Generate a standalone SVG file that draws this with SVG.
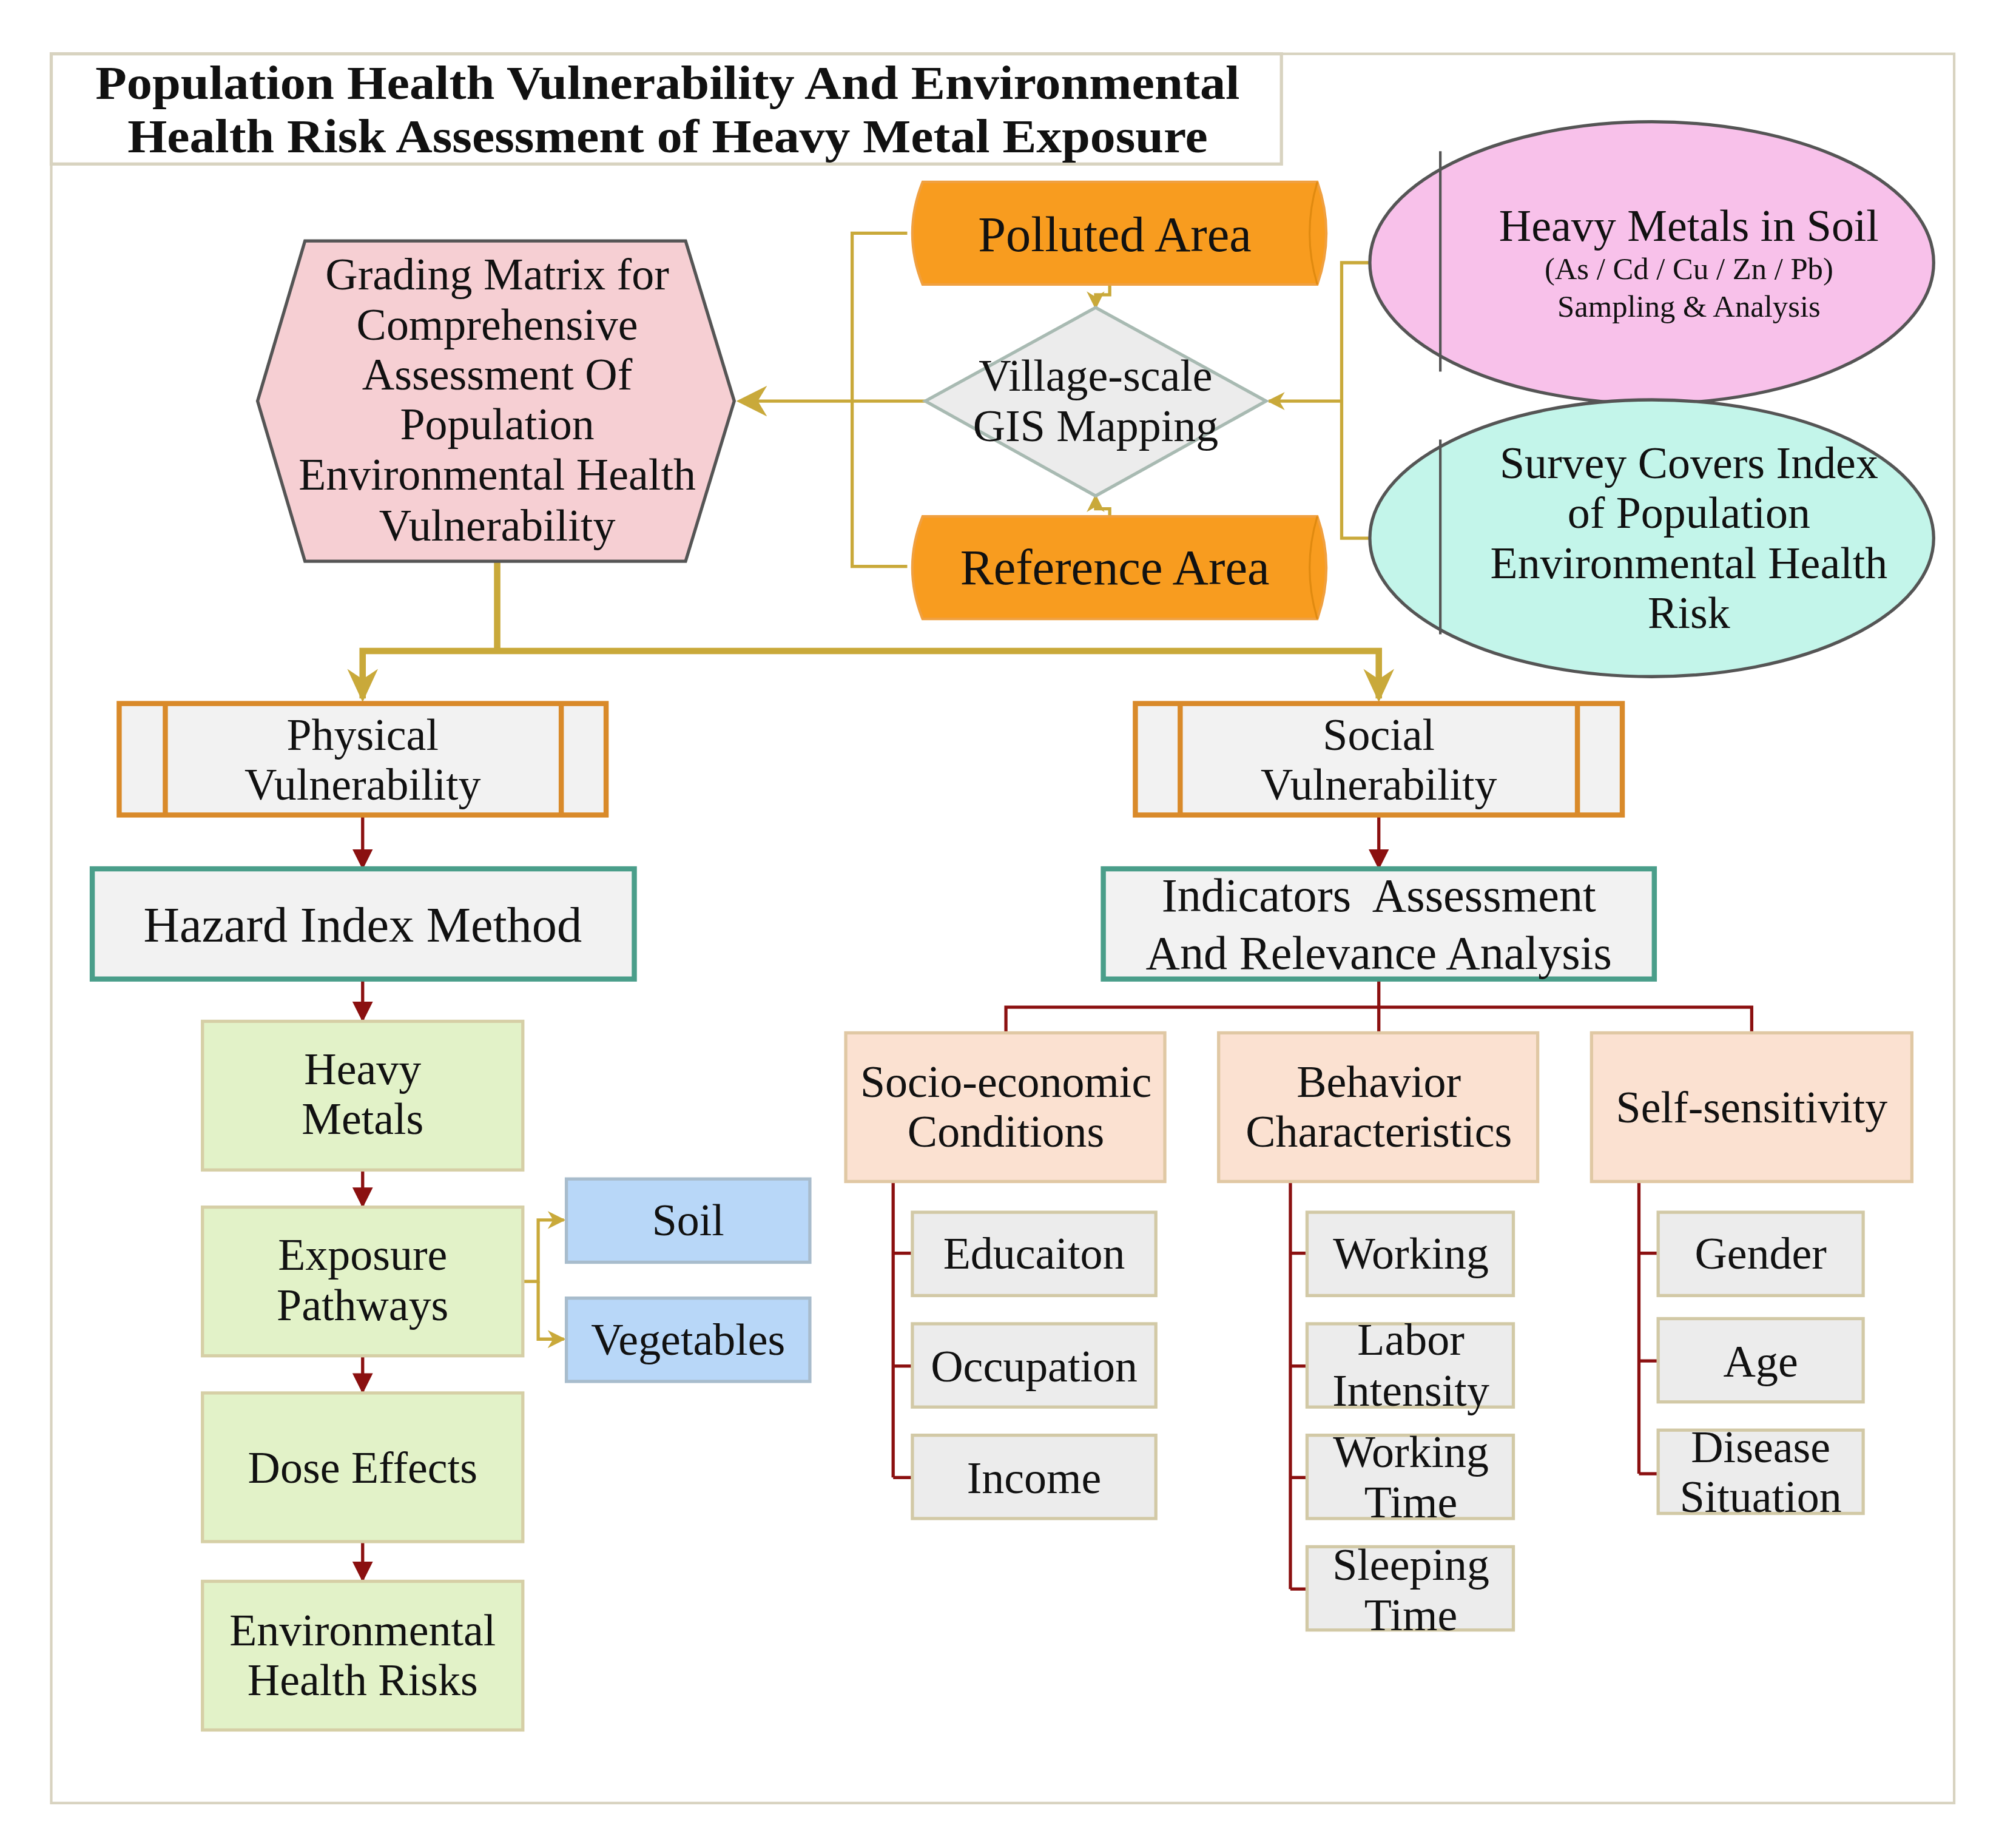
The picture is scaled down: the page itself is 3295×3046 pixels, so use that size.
<svg xmlns="http://www.w3.org/2000/svg" width="3295" height="3046" viewBox="0 0 3295 3046">
<defs>
<marker id="agb" viewBox="0 0 10 10" refX="9" refY="5" markerWidth="24" markerHeight="24" orient="auto" markerUnits="userSpaceOnUse"><path d="M0,0 L10,5 L0,10 L3,5 z" fill="#c9a93a"/></marker>
<marker id="ags" viewBox="0 0 10 10" refX="9" refY="5" markerWidth="14" markerHeight="14" orient="auto" markerUnits="userSpaceOnUse"><path d="M0,0 L10,5 L0,10 L3,5 z" fill="#c9a93a"/></marker>
<marker id="ar" viewBox="0 0 10 10" refX="9" refY="5" markerWidth="16" markerHeight="16" orient="auto" markerUnits="userSpaceOnUse"><path d="M0,0 L10,5 L0,10 z" fill="#8b1010"/></marker>
</defs>
<style>
text{font-family:"Liberation Serif","DejaVu Serif",serif;fill:#111;text-anchor:middle}
.t{font-size:35px}
.g{fill:none;stroke:#c9a93a;stroke-width:2.5}
.r{fill:none;stroke:#8b1010;stroke-width:2.5}
.grn{fill:#e2f2c8;stroke:#d6cfa6;stroke-width:2.5}
.blu{fill:#b8d7f8;stroke:#a8bccc;stroke-width:2.5}
.pch{fill:#fbe1d1;stroke:#e0c8a4;stroke-width:2.5}
.gry{fill:#ececec;stroke:#d2c9a6;stroke-width:2.5}
.ora{fill:#f89c1f;stroke:#f0a040;stroke-width:2}
</style>
<rect width="3295" height="3046" fill="#fff"/>
<g transform="scale(2.1122)">
<rect x="40" y="42" width="1485" height="1365" fill="none" stroke="#d8d3c0" stroke-width="2"/>
<g id="title"><rect x="40" y="42" width="960" height="86" fill="#fff" stroke="#d8d3c0" stroke-width="2.5"/>
<text x="521" y="77" style="font-size:37px;font-weight:bold" textLength="893" lengthAdjust="spacingAndGlyphs">Population Health Vulnerability And Environmental</text>
<text x="521" y="119" style="font-size:37px;font-weight:bold" textLength="843" lengthAdjust="spacingAndGlyphs">Health Risk Assessment of Heavy Metal Exposure</text></g>

<g id="connectors">
<path class="g" d="M708,182 H665 V442 H708"/>
<path class="g" d="M722,313 H577" marker-end="url(#agb)"/>
<path class="g" d="M1068,205 H1047 V420 H1068"/>
<path class="g" d="M1047,313 H990" marker-end="url(#ags)"/>
<path class="g" d="M866,222 V230 H855 V240" marker-end="url(#ags)"/>
<path class="g" d="M866,403 V397 H855 V387" marker-end="url(#ags)"/>
<path class="g" style="stroke-width:5" d="M388,438 V508"/>
<path class="g" style="stroke-width:5" d="M283,545 V508 H1076 V545"/>
<path d="M271,522 L283,548 L295,522 L283,530 z M1064,522 L1076,548 L1088,522 L1076,530 z" fill="#c9a93a"/>
<path class="g" d="M408,1000 H420 V952 H440" marker-end="url(#ags)"/>
<path class="g" d="M420,1000 V1045 H440" marker-end="url(#ags)"/>
<path class="r" d="M283,636 V677" marker-end="url(#ar)"/>
<path class="r" d="M1076,636 V677" marker-end="url(#ar)"/>
<path class="r" d="M283,764 V796" marker-end="url(#ar)"/>
<path class="r" d="M283,913 V941" marker-end="url(#ar)"/>
<path class="r" d="M283,1058 V1086" marker-end="url(#ar)"/>
<path class="r" d="M283,1203 V1233" marker-end="url(#ar)"/>
<path class="r" d="M1076,764 V806 M785,806 V786 H1367 V806"/>
<path class="r" d="M697,922 V1153 M697,978 H712 M697,1066 H712 M697,1153 H712"/>
<path class="r" d="M1007,922 V1240 M1007,978 H1020 M1007,1066 H1020 M1007,1153 H1020 M1007,1240 H1020"/>
<path class="r" d="M1279,922 V1150 M1279,978 H1294 M1279,1062 H1294 M1279,1150 H1294"/>
</g>

<g id="polluted"><path class="ora" d="M720,142 H1028 Q1042,182 1028,222 H720 Q704,182 720,142 z"/><path d="M1028,142 Q1016,182 1028,222" fill="none" stroke="#e08a10" stroke-width="1.5"/><text x="870" y="196" style="font-size:39px">Polluted Area</text></g>
<g id="reference"><path class="ora" d="M720,403 H1028 Q1042,443 1028,483 H720 Q704,443 720,403 z"/><path d="M1028,403 Q1016,443 1028,483" fill="none" stroke="#e08a10" stroke-width="1.5"/><text x="870" y="456" style="font-size:39px">Reference Area</text></g>
<g id="gis"><path d="M855,240 L988,313 L855,387 L722,313 z" fill="#ececec" stroke="#a8bab2" stroke-width="2.5"/><text x="855" y="305" class="t">Village-scale</text><text x="855" y="344" class="t">GIS Mapping</text></g>
<g id="matrix"><path d="M238,188 L535,188 L573,313 L535,438 L238,438 L201,313 z" fill="#f6cfd3" stroke="#555" stroke-width="2.5"/>
<text x="388" y="226" class="t">Grading Matrix for</text><text x="388" y="265" class="t">Comprehensive</text><text x="388" y="304" class="t">Assessment Of</text><text x="388" y="343" class="t">Population</text><text x="388" y="382" class="t">Environmental Health</text><text x="388" y="422" class="t">Vulnerability</text></g>
<g id="soilmetals"><ellipse cx="1289" cy="205" rx="220" ry="110" fill="#f8c1ea" stroke="#555" stroke-width="2.5"/><line x1="1124" y1="118" x2="1124" y2="290" stroke="#555" stroke-width="2"/>
<text x="1318" y="188" class="t">Heavy Metals in Soil</text><text x="1318" y="218" style="font-size:24px">(As / Cd / Cu / Zn / Pb)</text><text x="1318" y="247" style="font-size:24px">Sampling &amp; Analysis</text></g>
<g id="survey"><ellipse cx="1289" cy="420" rx="220" ry="108" fill="#c3f5ea" stroke="#555" stroke-width="2.5"/><line x1="1124" y1="343" x2="1124" y2="495" stroke="#555" stroke-width="2"/>
<text x="1318" y="373" class="t">Survey Covers Index</text><text x="1318" y="412" class="t">of Population</text><text x="1318" y="451" class="t">Environmental Health</text><text x="1318" y="490" class="t">Risk</text></g>

<g id="physical"><rect x="93" y="549" width="380" height="87" fill="#f2f2f2" stroke="#d98a2a" stroke-width="4"/><path d="M129,549 V636 M438,549 V636" stroke="#d98a2a" stroke-width="4"/><text x="283" y="585" class="t">Physical</text><text x="283" y="624" class="t">Vulnerability</text></g>
<g id="social"><rect x="886" y="549" width="380" height="87" fill="#f2f2f2" stroke="#d98a2a" stroke-width="4"/><path d="M921,549 V636 M1231,549 V636" stroke="#d98a2a" stroke-width="4"/><text x="1076" y="585" class="t">Social</text><text x="1076" y="624" class="t">Vulnerability</text></g>
<g id="hazard"><rect x="72" y="678" width="423" height="86" fill="#f2f2f2" stroke="#4a9e8a" stroke-width="4"/><text x="283" y="735" style="font-size:39px">Hazard Index Method</text></g>
<g id="indicators"><rect x="861" y="678" width="430" height="86" fill="#f2f2f2" stroke="#4a9e8a" stroke-width="4"/><text x="1076" y="711" style="font-size:37px" xml:space="preserve">Indicators  Assessment</text><text x="1076" y="756" style="font-size:37px">And Relevance Analysis</text></g>

<g id="heavymetals"><rect class="grn" x="158" y="797" width="250" height="116"/><text x="283" y="846" class="t">Heavy</text><text x="283" y="885" class="t">Metals</text></g>
<g id="exposure"><rect class="grn" x="158" y="942" width="250" height="116"/><text x="283" y="991" class="t">Exposure</text><text x="283" y="1030" class="t">Pathways</text></g>
<g id="dose"><rect class="grn" x="158" y="1087" width="250" height="116"/><text x="283" y="1157" class="t">Dose Effects</text></g>
<g id="envrisk"><rect class="grn" x="158" y="1234" width="250" height="116"/><text x="283" y="1284" class="t">Environmental</text><text x="283" y="1323" class="t">Health Risks</text></g>
<g id="soil"><rect class="blu" x="442" y="920" width="190" height="65"/><text x="537" y="964" class="t">Soil</text></g>
<g id="veg"><rect class="blu" x="442" y="1013" width="190" height="65"/><text x="537" y="1057" class="t">Vegetables</text></g>

<g id="socio"><rect class="pch" x="660" y="806" width="249" height="116"/><text x="785" y="856" class="t">Socio-economic</text><text x="785" y="895" class="t">Conditions</text></g>
<g id="behavior"><rect class="pch" x="951" y="806" width="249" height="116"/><text x="1076" y="856" class="t">Behavior</text><text x="1076" y="895" class="t">Characteristics</text></g>
<g id="self"><rect class="pch" x="1242" y="806" width="250" height="116"/><text x="1367" y="876" class="t">Self-sensitivity</text></g>

<g id="edu"><rect class="gry" x="712" y="946" width="190" height="65"/><text x="807" y="990" class="t">Educaiton</text></g>
<g id="occ"><rect class="gry" x="712" y="1033" width="190" height="65"/><text x="807" y="1078" class="t">Occupation</text></g>
<g id="inc"><rect class="gry" x="712" y="1120" width="190" height="65"/><text x="807" y="1165" class="t">Income</text></g>
<g id="work"><rect class="gry" x="1020" y="946" width="161" height="65"/><text x="1101" y="990" class="t">Working</text></g>
<g id="labor"><rect class="gry" x="1020" y="1033" width="161" height="65"/><text x="1101" y="1057" class="t">Labor</text><text x="1101" y="1097" class="t">Intensity</text></g>
<g id="wtime"><rect class="gry" x="1020" y="1120" width="161" height="65"/><text x="1101" y="1145" class="t">Working</text><text x="1101" y="1184" class="t">Time</text></g>
<g id="stime"><rect class="gry" x="1020" y="1207" width="161" height="65"/><text x="1101" y="1233" class="t">Sleeping</text><text x="1101" y="1272" class="t">Time</text></g>
<g id="gender"><rect class="gry" x="1294" y="946" width="160" height="65"/><text x="1374" y="990" class="t">Gender</text></g>
<g id="age"><rect class="gry" x="1294" y="1029" width="160" height="65"/><text x="1374" y="1074" class="t">Age</text></g>
<g id="disease"><rect class="gry" x="1294" y="1116" width="160" height="65"/><text x="1374" y="1141" class="t">Disease</text><text x="1374" y="1180" class="t">Situation</text></g>
</g>
</svg>
